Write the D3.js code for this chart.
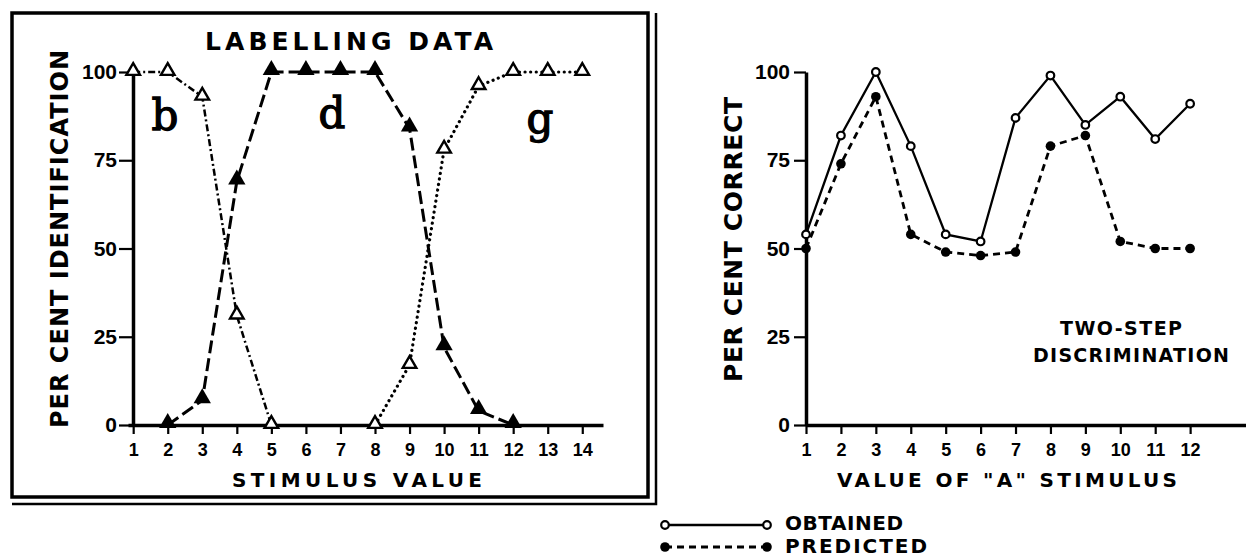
<!DOCTYPE html>
<html><head><meta charset="utf-8">
<script src="https://cdn.jsdelivr.net/npm/d3@7"></script>
<style>
body{margin:0;background:#fff}
svg text{font-family:"DejaVu Sans",sans-serif;font-weight:bold;fill:#000}
</style>
</head><body>
<svg id="c" width="1246" height="558"></svg>
<script>
// ---------- DATA ----------
const leftTicks = [1,2,3,4,5,6,7,8,9,10,11,12,13,14];
const rightTicks = [1,2,3,4,5,6,7,8,9,10,11,12];
const yTicks = [0,25,50,75,100];

const bStim = [1,2,3,4,5];
const bPct  = [100,100,93,31,0];
const dStim = [2,3,4,5,6,7,8,9,10,11,12];
const dPct  = [0,7,69,100,100,100,100,84,22,4,0];
const gStim = [8,9,10,11,12,13,14];
const gPct  = [0,17,78,96,100,100,100];

const aStim = [1,2,3,4,5,6,7,8,9,10,11,12];
const obtained  = [54,82,100,79,54,52,87,99,85,93,81,91];
const predicted = [50,74,93,54,49,48,49,79,82,52,50,50];

// ---------- DRAW ----------
const svg = d3.select("#c");

// Left frame
svg.append("rect").attr("x",12).attr("y",13).attr("width",636).attr("height",484)
  .attr("fill","none").attr("stroke","#000").attr("stroke-width",3.5);
svg.append("path").attr("d","M12,504H656V13").attr("fill","none").attr("stroke","#000").attr("stroke-width",2.5);

const y = d3.scaleLinear().domain([0,100]).range([425,72]);
const xL = d3.scaleLinear().domain([0.85,14.6]).range([128,603]);
const xR = d3.scaleLinear().domain([1,13.6]).range([806,1246]);

function styleAxis(g, fs){
  g.select(".domain").attr("stroke","#000").attr("stroke-width",3.5);
  g.selectAll(".tick line").attr("stroke","#000").attr("stroke-width",2.2);
  g.selectAll(".tick text").style("font-size",fs+"px").style("font-family","'Liberation Sans',Arial,sans-serif").style("font-weight","bold").attr("fill","#000");
}

// Left axes
const gLx = svg.append("g").attr("transform","translate(0,425)")
  .call(d3.axisBottom(xL).tickValues(leftTicks).tickFormat(d3.format("d")).tickSize(9).tickSizeOuter(0).tickPadding(9));
styleAxis(gLx,18);
const gLy = svg.append("g").attr("transform","translate(133,0)")
  .call(d3.axisLeft(y).tickValues(yTicks).tickSize(14).tickSizeOuter(0).tickPadding(2));
styleAxis(gLy,21);

// Right axes
const gRx = svg.append("g").attr("transform","translate(0,425)")
  .call(d3.axisBottom(xR).tickValues(rightTicks).tickFormat(d3.format("d")).tickSize(9).tickSizeOuter(0).tickPadding(9));
styleAxis(gRx,18);
const gRy = svg.append("g").attr("transform","translate(806,0)")
  .call(d3.axisLeft(y).tickValues(yTicks).tickSize(12).tickSizeOuter(0).tickPadding(4));
styleAxis(gRy,21);

// Lines - left
const lineL = d3.line().x(d=>xL(d[0])).y(d=>y(d[1]));
const zip = (a,b)=>a.map((v,i)=>[v,b[i]]);
const bData = zip(bStim,bPct), dData = zip(dStim,dPct), gData = zip(gStim,gPct);

svg.append("path").datum(bData).attr("d",lineL).attr("fill","none").attr("stroke","#000")
  .attr("stroke-width",2.5).attr("stroke-dasharray","7,3,2,3");
svg.append("path").datum(dData).attr("d",lineL).attr("fill","none").attr("stroke","#000")
  .attr("stroke-width",3).attr("stroke-dasharray","13,5");
svg.append("path").datum(gData).attr("d",lineL).attr("fill","none").attr("stroke","#000")
  .attr("stroke-width",3.2).attr("stroke-dasharray","0.1,5.5").attr("stroke-linecap","round");

const triOpen = d3.symbol(d3.symbolTriangle, 80);
const triFill = d3.symbol(d3.symbolTriangle, 130);
svg.append("g").selectAll("path").data(dData).join("path")
  .attr("d",triFill).attr("transform",d=>`translate(${xL(d[0])},${y(d[1])-2})`).attr("fill","#000");
svg.append("g").selectAll("path").data(bData.concat(gData)).join("path")
  .attr("d",triOpen).attr("transform",d=>`translate(${xL(d[0])},${y(d[1])-1})`)
  .attr("fill","#fff").attr("stroke","#000").attr("stroke-width",2.4);

// Lines - right
const lineR = d3.line().x(d=>xR(d[0])).y(d=>y(d[1]));
const oData = zip(aStim,obtained), pData = zip(aStim,predicted);
svg.append("path").datum(pData).attr("d",lineR).attr("fill","none").attr("stroke","#000")
  .attr("stroke-width",2.8).attr("stroke-dasharray","7,5");
svg.append("path").datum(oData).attr("d",lineR).attr("fill","none").attr("stroke","#000")
  .attr("stroke-width",2.3);
svg.append("g").selectAll("circle").data(pData).join("circle")
  .attr("cx",d=>xR(d[0])).attr("cy",d=>y(d[1])).attr("r",4.8).attr("fill","#000");
svg.append("g").selectAll("circle").data(oData).join("circle")
  .attr("cx",d=>xR(d[0])).attr("cy",d=>y(d[1])).attr("r",3.8).attr("fill","#fff")
  .attr("stroke","#000").attr("stroke-width",2.2);

// Texts
function txt(x,yy,s,fs,len){
  const t = svg.append("text").attr("x",x).attr("y",yy).text(s).style("font-size",fs+"px");
  if(len) t.attr("textLength",len).attr("lengthAdjust","spacing");
  return t;
}
txt(205,50,"LABELLING DATA",25,288);
txt(232,487,"STIMULUS VALUE",20,250);
svg.append("text").attr("transform","translate(68,428) rotate(-90)").text("PER CENT IDENTIFICATION")
  .style("font-size","24px").attr("textLength",378).attr("lengthAdjust","spacing");

txt(837,487,"VALUE OF \"A\" STIMULUS",20,340);
svg.append("text").attr("transform","translate(742,382) rotate(-90)").text("PER CENT CORRECT")
  .style("font-size","25px").attr("textLength",285).attr("lengthAdjust","spacing");
txt(1060,335,"TWO-STEP",19,122);
txt(1033,362,"DISCRIMINATION",19,196);

// letters b d g
[["b",165,130],["d",332,128],["g",540,133]].forEach(([s,x,yy])=>{
  svg.append("text").attr("x",x).attr("y",yy).attr("text-anchor","middle").text(s)
    .style("font-family","'DejaVu Serif',serif").style("font-weight","normal").style("font-size","42px")
    .attr("stroke","#000").attr("stroke-width",1.3);
});

// Legend
svg.append("line").attr("x1",665).attr("x2",767).attr("y1",525).attr("y2",525).attr("stroke","#000").attr("stroke-width",2.3);
svg.append("line").attr("x1",665).attr("x2",767).attr("y1",547).attr("y2",547).attr("stroke","#000").attr("stroke-width",2.8).attr("stroke-dasharray","7,5");
[665,767].forEach(x=>{
  svg.append("circle").attr("cx",x).attr("cy",525).attr("r",3.8).attr("fill","#fff").attr("stroke","#000").attr("stroke-width",2.2);
  svg.append("circle").attr("cx",x).attr("cy",547).attr("r",4.8).attr("fill","#000");
});
txt(785,530,"OBTAINED",20,118);
txt(785,553,"PREDICTED",20,142);
</script>
</body></html>
